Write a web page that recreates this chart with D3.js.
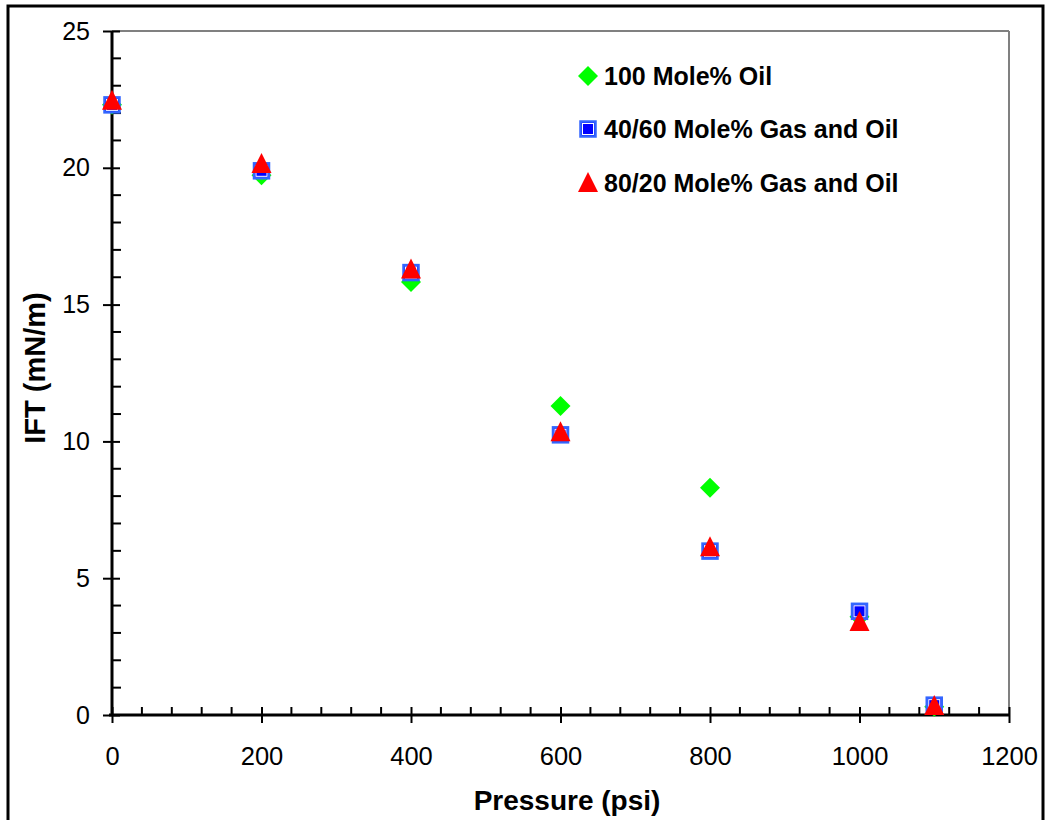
<!DOCTYPE html>
<html>
<head>
<meta charset="utf-8">
<script src="https://cdn.jsdelivr.net/npm/d3@7"></script>
<style>
  html, body { margin: 0; padding: 0; background: #fff; }
  svg { display: block; }
  text { font-family: "Liberation Sans", Arial, sans-serif; }
</style>
</head>
<body>
<svg id="chart" width="1045" height="820"></svg>
<script>
// ---- data ----
const pressures = [0, 200, 400, 600, 800, 1000, 1100];
const oil100 = [22.3, 19.73, 15.83, 11.29, 8.31, 3.59, 0.3];
const gasOil4060 = [22.3, 19.89, 16.17, 10.24, 5.99, 3.79, 0.36];
const gasOil8020 = [22.45, 20.14, 16.28, 10.33, 6.13, 3.4, 0.33];
const seriesNames = ["100 Mole% Oil", "40/60 Mole% Gas and Oil", "80/20 Mole% Gas and Oil"];
const xTicks = [0, 200, 400, 600, 800, 1000, 1200];
const yTicks = [0, 5, 10, 15, 20, 25];

const svg = d3.select("#chart");
const x = d3.scaleLinear().domain([0, 1200]).range([112, 1009]);
const y = d3.scaleLinear().domain([0, 25]).range([715, 31]);

// outer border
svg.append("rect").attr("x", 8).attr("y", 6).attr("width", 1035).attr("height", 830)
  .attr("fill", "none").attr("stroke", "#000").attr("stroke-width", 3);

// plot area gray top/right
svg.append("line").attr("x1", x(0)).attr("x2", x(1200)).attr("y1", y(25)).attr("y2", y(25))
  .attr("stroke", "#808080").attr("stroke-width", 2);
svg.append("line").attr("x1", x(1200)).attr("x2", x(1200)).attr("y1", y(25)).attr("y2", y(0))
  .attr("stroke", "#808080").attr("stroke-width", 2);

// minor ticks
const yMinor = d3.range(0, 26, 1).filter(v => v % 5 !== 0);
svg.append("g").selectAll("line").data(yMinor).join("line")
  .attr("x1", x(0)).attr("x2", x(0) + 9).attr("y1", d => y(d)).attr("y2", d => y(d))
  .attr("stroke", "#000").attr("stroke-width", 2);
const xMinor = d3.range(0, 1201, 40).filter(v => v % 200 !== 0);
svg.append("g").selectAll("line").data(xMinor).join("line")
  .attr("x1", d => x(d)).attr("x2", d => x(d)).attr("y1", y(0)).attr("y2", y(0) - 8)
  .attr("stroke", "#000").attr("stroke-width", 2);

// axes
const yAxis = svg.append("g").attr("transform", `translate(${x(0)},0)`)
  .call(d3.axisLeft(y).tickValues(yTicks).tickSize(9).tickPadding(13).tickFormat(d3.format("d")));
yAxis.select(".domain").attr("stroke", "#000").attr("stroke-width", 3).attr("d", `M0,${y(25)}V${y(0)}`);
yAxis.selectAll(".tick line").attr("stroke", "#000").attr("stroke-width", 2).attr("x1", 8);
yAxis.selectAll(".tick text").attr("font-size", 25).attr("fill", "#000");

const xAxis = svg.append("g").attr("transform", `translate(0,${y(0)})`)
  .call(d3.axisBottom(x).tickValues(xTicks).tickSize(8).tickPadding(24).tickFormat(d3.format("d")));
xAxis.select(".domain").attr("stroke", "#000").attr("stroke-width", 3).attr("d", `M${x(0) - 3},0H${x(1200)}`);
xAxis.selectAll(".tick line").attr("stroke", "#000").attr("stroke-width", 2).attr("y1", -8);
xAxis.selectAll(".tick text").attr("font-size", 25.5).attr("fill", "#000");

// axis titles
svg.append("text").attr("x", 567).attr("y", 810).attr("text-anchor", "middle")
  .attr("font-size", 28).attr("font-weight", "bold").text("Pressure (psi)");
svg.append("text").attr("transform", `translate(45,368) rotate(-90)`).attr("text-anchor", "middle")
  .attr("font-size", 29).attr("font-weight", "bold").text("IFT (mN/m)");

// marker drawers
function diamond(g) {
  g.append("path").attr("d", "M0,-10L10,0L0,10L-10,0Z").attr("fill", "#00FF00");
}
function square(g) {
  g.append("rect").attr("x", -7.5).attr("y", -7.5).attr("width", 15).attr("height", 15)
    .attr("fill", "#0000FF").attr("stroke", "#3366FF").attr("stroke-width", 2.5);
  g.append("rect").attr("x", -5.5).attr("y", -5.5).attr("width", 11).attr("height", 11)
    .attr("fill", "none").attr("stroke", "#fff").attr("stroke-width", 1);
}
function triangle(g) {
  g.append("path").attr("d", "M0,-10L10,10L-10,10Z").attr("fill", "#FF0000").attr("transform", "translate(0,-1)");
}
const drawers = [diamond, square, triangle];
const allSeries = [oil100, gasOil4060, gasOil8020];

allSeries.forEach((vals, si) => {
  const g = svg.append("g");
  pressures.forEach((p, i) => {
    const m = g.append("g").attr("transform", `translate(${x(p)},${y(vals[i])})`);
    drawers[si](m);
  });
});

// legend
const legendY = [76, 129, 183];
seriesNames.forEach((name, i) => {
  const m = svg.append("g").attr("transform", `translate(588,${legendY[i]})`);
  drawers[i](m);
  svg.append("text").attr("x", 604).attr("y", legendY[i] + 9).attr("font-size", 25)
    .attr("font-weight", "bold").text(name);
});
</script>
</body>
</html>
